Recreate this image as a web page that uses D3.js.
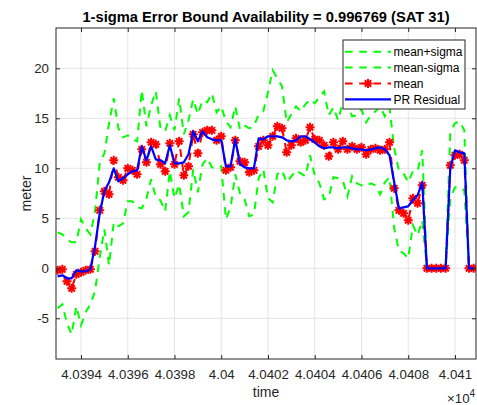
<!DOCTYPE html>
<html>
<head>
<meta charset="utf-8">
<script src="https://cdn.jsdelivr.net/npm/d3@7"></script>
<style>
  body { margin: 0; background: #fff; }
  svg { display: block; }
  text { font-family: "Liberation Sans", Arial, Helvetica, sans-serif; }
</style>
</head>
<body>
<svg id="chart" width="477" height="405"></svg>
<script>
// Sample times (s)
const time = [
  40393.0, 40393.2, 40393.4, 40393.6, 40393.8, 40394.0, 40394.2, 40394.4, 40394.6, 40394.8,
  40395.0, 40395.2, 40395.4, 40395.6, 40395.8, 40396.0, 40396.2, 40396.4, 40396.6, 40396.8,
  40397.0, 40397.2, 40397.4, 40397.6, 40397.8, 40398.0, 40398.2, 40398.4, 40398.6, 40398.8,
  40399.0, 40399.2, 40399.4, 40399.6, 40399.8, 40400.0, 40400.2, 40400.4, 40400.6, 40400.8,
  40401.0, 40401.2, 40401.4, 40401.6, 40401.8, 40402.0, 40402.2, 40402.4, 40402.6, 40402.8,
  40403.0, 40403.2, 40403.4, 40403.6, 40403.8, 40404.0, 40404.2, 40404.4, 40404.6, 40404.8,
  40405.0, 40405.2, 40405.4, 40405.6, 40405.8, 40406.0, 40406.2, 40406.4, 40406.6, 40406.8,
  40407.0, 40407.2, 40407.4, 40407.6, 40407.8, 40408.0, 40408.2, 40408.4, 40408.6, 40408.8,
  40409.0, 40409.2, 40409.4, 40409.6, 40409.8, 40410.0, 40410.2, 40410.4, 40410.6, 40410.8
];

// mean + sigma (m)
const meanPlusSigma = [
  3.6, 3.4, 2.9, 2.6, 2.6, 4.9, 4.0, 3.4, 5.7, 10.5,
  11.5, 14.5, 17.0, 14.0, 13.1, 13.3, 12.9, 12.7, 17.8, 14.2,
  16.3, 17.7, 14.0, 13.7, 15.3, 13.8, 17.0, 13.4, 14.8, 16.9,
  15.4, 16.8, 16.6, 17.5, 15.6, 16.2, 14.7, 14.1, 16.2, 13.9,
  14.3, 14.0, 14.2, 15.4, 15.7, 17.6, 19.8, 19.0, 18.2, 14.6,
  15.4, 16.2, 15.7, 16.4, 16.9, 16.5, 17.1, 17.7, 15.3, 16.1,
  14.8, 16.6, 16.6, 15.2, 15.3, 15.9, 14.6, 15.3, 15.7, 16.2,
  15.2, 16.1, 12.0, 9.8, 9.5, 8.6, 9.7, 9.7, 11.8, 0,
  0, 0, 0, 0, 13.6, 14.5, 14.7, 13.8, 0, 0
];

// mean - sigma (m)
const meanMinusSigma = [
  -4.0, -3.6, -5.5, -6.6, -3.8, -5.7, -4.4, -3.6, -2.3, 1.1,
  3.9, 0.3, 4.6, 4.2, 4.5, 6.7, 6.7, 6.1, 6.0, 7.0,
  8.9, 7.1, 6.8, 5.7, 9.7, 7.0, 8.4, 5.2, 5.6, 9.9,
  7.6, 10.4, 11.0, 10.1, 10.0, 10.2, 4.9, 6.1, 9.4, 7.5,
  6.9, 5.2, 5.4, 9.0, 9.9, 7.0, 6.6, 9.4, 9.8, 8.6,
  9.2, 9.8, 9.5, 9.2, 11.3, 9.3, 8.5, 6.9, 7.1, 9.1,
  9.0, 8.8, 7.2, 9.2, 8.5, 8.3, 8.2, 8.5, 8.3, 7.4,
  8.6, 9.1, 4.0, 1.8, 1.5, 1.0, 4.3, 3.3, 4.8, 0,
  0, 0, 0, 0, 7.0, 8.1, 8.1, 7.8, 0, 0
];

// mean (m)
const meanValues = [
  -0.2, -0.1, -1.3, -2.0, -0.6, -0.4, -0.2, -0.1, 1.7, 5.8,
  7.7, 7.4, 10.8, 9.1, 8.8, 10.0, 9.8, 9.4, 11.9, 10.6,
  12.6, 12.4, 10.4, 9.7, 12.5, 10.4, 12.7, 9.3, 10.2, 13.4,
  11.5, 13.6, 13.8, 13.8, 12.8, 13.2, 9.8, 10.1, 12.8, 10.7,
  10.6, 9.6, 9.8, 12.2, 12.8, 12.3, 13.2, 14.2, 14.0, 11.6,
  12.3, 13.0, 12.6, 12.8, 14.1, 12.9, 12.8, 12.3, 11.2, 12.6,
  11.9, 12.7, 11.9, 12.2, 11.9, 12.1, 11.4, 11.9, 12.0, 11.8,
  11.9, 12.6, 8.0, 5.8, 5.5, 4.8, 7.0, 6.5, 8.3, 0,
  0, 0, 0, 0, 10.3, 11.3, 11.4, 10.8, 0, 0
];

// pseudorange residual (m)
const prResidual = [
  -0.8, -0.7, -1.0, -1.0, -0.2, -0.3, -0.3, -0.1, 2.2, 5.5,
  7.7, 8.6, 10.0, 8.7, 9.0, 9.4, 9.7, 9.8, 12.2, 10.8,
  12.2, 10.9, 10.8, 10.5, 12.3, 10.5, 10.5, 10.6, 11.4, 13.7,
  12.7, 13.7, 13.1, 12.9, 12.8, 12.8, 10.2, 10.2, 12.9, 10.4,
  10.1, 10.0, 10.0, 13.0, 12.9, 13.2, 13.2, 13.2, 13.1, 12.8,
  12.7, 12.8, 13.2, 13.2, 12.9, 12.6, 12.2, 12.0, 12.1, 12.1,
  12.0, 12.1, 12.1, 12.0, 11.9, 11.9, 11.8, 11.9, 12.0, 12.1,
  11.9, 11.3, 8.6, 6.0, 6.1, 6.2, 6.8, 7.3, 8.6, 0,
  0, 0, 0, 0, 10.0, 11.8, 11.6, 11.5, 0, 0
];

const xTicks = [40394, 40396, 40398, 40400, 40402, 40404, 40406, 40408, 40410];
const xTickLabels = ["4.0394", "4.0396", "4.0398", "4.04", "4.0402", "4.0404", "4.0406", "4.0408", "4.041"];
const yTicks = [-5, 0, 5, 10, 15, 20];
const legendLabels = ["mean+sigma", "mean-sigma", "mean", "PR Residual"];

const titleText = "1-sigma Error Bound Availability = 0.996769 (SAT 31)";

// ---- layout ----
const plot = { left: 56, right: 476, top: 28, bottom: 359 };
const axisColor = "#262626";
const gridColor = "#e4e4e4";
const dash = "7.6,6.6";

const svg = d3.select("#chart");

const x = d3.scaleLinear().domain([40392.93, 40410.9]).range([plot.left, plot.right]);
const y = d3.scaleLinear().domain([-9.07, 24.03]).range([plot.bottom, plot.top]);

// grid
const grid = svg.append("g");
grid.selectAll("line.gx").data(xTicks).join("line")
  .attr("x1", d => x(d)).attr("x2", d => x(d))
  .attr("y1", plot.top).attr("y2", plot.bottom)
  .attr("stroke", gridColor).attr("stroke-width", 1);
grid.selectAll("line.gy").data(yTicks).join("line")
  .attr("x1", plot.left).attr("x2", plot.right)
  .attr("y1", d => y(d)).attr("y2", d => y(d))
  .attr("stroke", gridColor).attr("stroke-width", 1);

// data layer, clipped to the axes box
svg.append("clipPath").attr("id", "plotClip").append("rect")
  .attr("x", plot.left).attr("y", plot.top)
  .attr("width", plot.right - plot.left).attr("height", plot.bottom - plot.top);
const data = svg.append("g").attr("clip-path", "url(#plotClip)");

const lineOf = vals => d3.line().x((d, i) => x(time[i])).y(d => y(d))(vals);

data.append("path").attr("d", lineOf(meanPlusSigma))
  .attr("fill", "none").attr("stroke", "#00ff00").attr("stroke-width", 2)
  .attr("stroke-dasharray", dash);
data.append("path").attr("d", lineOf(meanMinusSigma))
  .attr("fill", "none").attr("stroke", "#00ff00").attr("stroke-width", 2)
  .attr("stroke-dasharray", dash);
data.append("path").attr("d", lineOf(meanValues))
  .attr("fill", "none").attr("stroke", "#ff0000").attr("stroke-width", 2)
  .attr("stroke-dasharray", dash);

// asterisk marker
function starPath(r) {
  const d = r * 0.7071;
  return `M${-r},0H${r}M0,${-r}V${r}M${-d},${-d}L${d},${d}M${-d},${d}L${d},${-d}`;
}
data.selectAll("path.star").data(meanValues).join("path")
  .attr("class", "star")
  .attr("transform", (d, i) => `translate(${x(time[i])},${y(d)})`)
  .attr("d", starPath(4.5))
  .attr("fill", "none").attr("stroke", "#ff0000").attr("stroke-width", 2);

data.append("path").attr("d", lineOf(prResidual))
  .attr("fill", "none").attr("stroke", "#0000ff").attr("stroke-width", 2.2)
  .attr("stroke-linejoin", "round");

// axes
const fontSize = 13.3;
const gx = svg.append("g").attr("transform", `translate(0,${plot.bottom})`)
  .call(d3.axisBottom(x).tickValues(xTicks).tickFormat((d, i) => xTickLabels[i])
    .tickSizeInner(-4).tickSizeOuter(0).tickPadding(10.5));
const gxTop = svg.append("g").attr("transform", `translate(0,${plot.top})`)
  .call(d3.axisTop(x).tickValues(xTicks).tickFormat("").tickSizeInner(-4).tickSizeOuter(0));
const gy = svg.append("g").attr("transform", `translate(${plot.left},0)`)
  .call(d3.axisLeft(y).tickValues(yTicks).tickFormat(d3.format("d"))
    .tickSizeInner(-4).tickSizeOuter(0).tickPadding(7));
const gyRight = svg.append("g").attr("transform", `translate(${plot.right},0)`)
  .call(d3.axisRight(y).tickValues(yTicks).tickFormat("").tickSizeInner(-4).tickSizeOuter(0));

[gx, gxTop, gy, gyRight].forEach(g => {
  g.select(".domain").remove();
  g.selectAll(".tick line").attr("stroke", axisColor).attr("stroke-width", 1);
  g.selectAll(".tick text").attr("fill", axisColor)
    .attr("font-size", fontSize).attr("font-family", "Liberation Sans, Arial, sans-serif");
});
gy.selectAll(".tick text").text(d => d < 0 ? "-" + Math.abs(d) : d);

// box
svg.append("rect")
  .attr("x", plot.left).attr("y", plot.top)
  .attr("width", plot.right - plot.left).attr("height", plot.bottom - plot.top)
  .attr("fill", "none").attr("stroke", axisColor).attr("stroke-width", 1);

// labels
svg.append("text").attr("x", (plot.left + plot.right) / 2).attr("y", 22)
  .attr("text-anchor", "middle").attr("font-weight", "bold").attr("font-size", 14.7)
  .attr("fill", "#000").text(titleText);
svg.append("text").attr("x", (plot.left + plot.right) / 2).attr("y", 397)
  .attr("text-anchor", "middle").attr("font-size", 14).attr("fill", axisColor).text("time");
svg.append("text")
  .attr("transform", `translate(31,${(plot.top + plot.bottom) / 2}) rotate(-90)`)
  .attr("text-anchor", "middle").attr("font-size", 14).attr("fill", axisColor).text("meter");
const expo = svg.append("text").attr("x", 447).attr("y", 403)
  .attr("font-size", fontSize).attr("fill", axisColor);
expo.append("tspan").text("\u00d710");
expo.append("tspan").attr("dy", -6).attr("font-size", 10).text("4");

// legend
const leg = svg.append("g");
leg.append("rect").attr("x", 343).attr("y", 40).attr("width", 122).attr("height", 69)
  .attr("fill", "#fff").attr("stroke", axisColor).attr("stroke-width", 1);
const legendStyles = [
  { color: "#00ff00", dashed: true, marker: false },
  { color: "#00ff00", dashed: true, marker: false },
  { color: "#ff0000", dashed: true, marker: true },
  { color: "#0000ff", dashed: false, marker: false }
];
legendLabels.forEach((lab, i) => {
  const cy = 51.7 + i * 15.9;
  const st = legendStyles[i];
  leg.append("line").attr("x1", 345).attr("x2", 391).attr("y1", cy).attr("y2", cy)
    .attr("stroke", st.color).attr("stroke-width", st.dashed ? 2 : 2.2)
    .attr("stroke-dasharray", st.dashed ? dash : null);
  if (st.marker) {
    leg.append("path").attr("transform", `translate(368,${cy})`).attr("d", starPath(4.5))
      .attr("fill", "none").attr("stroke", st.color).attr("stroke-width", 2);
  }
  leg.append("text").attr("x", 393.5).attr("y", cy).attr("dy", "0.35em")
    .attr("font-size", 12).attr("fill", "#000").text(lab);
});
</script>
</body>
</html>
